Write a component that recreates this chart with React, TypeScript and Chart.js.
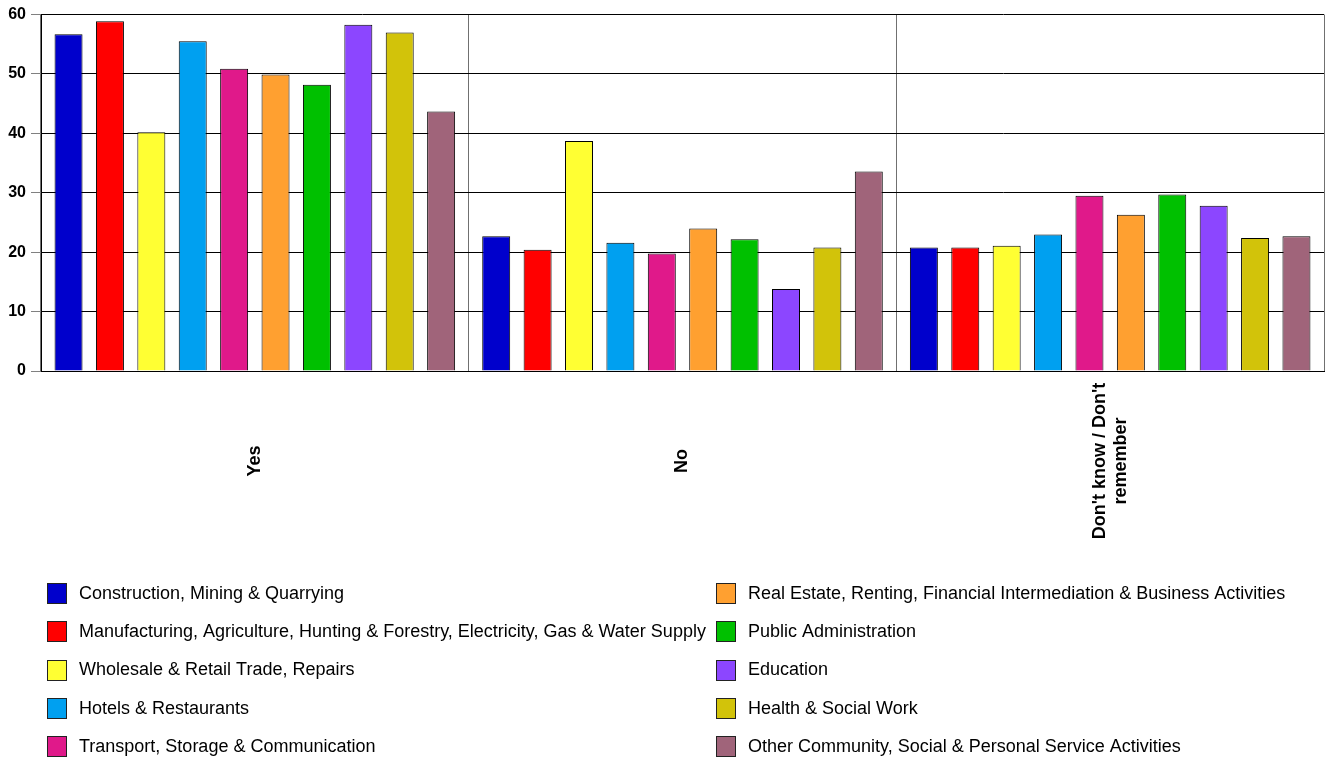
import React, { useEffect, useRef } from "react";
import { Chart, registerables } from "chart.js";

Chart.register(...registerables);

const categories: (string | string[])[] = ["Yes", "No", ["Don't know / Don't", "remember"]];

const seriesNames = [
  "Construction, Mining & Quarrying",
  "Manufacturing, Agriculture, Hunting & Forestry, Electricity, Gas & Water Supply",
  "Wholesale & Retail Trade, Repairs",
  "Hotels & Restaurants",
  "Transport, Storage & Communication",
  "Real Estate, Renting, Financial Intermediation & Business Activities",
  "Public Administration",
  "Education",
  "Health & Social Work",
  "Other Community, Social & Personal Service Activities",
];

const seriesColors = [
  "#0000CC",
  "#FF0000",
  "#FFFF33",
  "#00A0F0",
  "#E0198A",
  "#FFA030",
  "#00C000",
  "#8C46FF",
  "#D2C30A",
  "#A0647A",
];

// values per series: [Yes, No, Don't know]
const construction = [56.7, 22.7, 20.8];
const manufacturing = [58.9, 20.4, 20.8];
const wholesale = [40.2, 38.7, 21.1];
const hotels = [55.5, 21.6, 23.0];
const transport = [50.9, 19.8, 29.5];
const realEstate = [49.9, 24.0, 26.3];
const publicAdmin = [48.2, 22.2, 29.7];
const education = [58.3, 13.8, 27.8];
const health = [57.0, 20.8, 22.4];
const otherCommunity = [43.7, 33.6, 22.7];

const seriesValues = [
  construction,
  manufacturing,
  wholesale,
  hotels,
  transport,
  realEstate,
  publicAdmin,
  education,
  health,
  otherCommunity,
];

const yTicks = [0, 10, 20, 30, 40, 50, 60];

const FONT = "'Liberation Sans', Arial, sans-serif";

const xLabelPlugin = {
  id: "xLabelPlugin",
  afterDraw(chart: any) {
    const ctx = chart.ctx;
    const xs = chart.scales.x;
    const cy = xs.top + xs.height / 2;
    ctx.save();
    ctx.font = `bold 18px ${FONT}`;
    ctx.fillStyle = "#000";
    ctx.textAlign = "center";
    ctx.textBaseline = "middle";
    categories.forEach((c, i) => {
      const lines = Array.isArray(c) ? c : [c];
      const x = xs.getPixelForValue(i);
      ctx.save();
      ctx.translate(x, cy);
      ctx.rotate(-Math.PI / 2);
      const lh = 21;
      lines.forEach((ln, j) => {
        ctx.fillText(ln, 0, (j - (lines.length - 1) / 2) * lh);
      });
      ctx.restore();
    });
    ctx.restore();
  },
};

const legendPlugin = {
  id: "customLegend",
  afterDraw(chart: any) {
    const ctx = chart.ctx;
    ctx.save();
    ctx.font = `18px ${FONT}`;
    ctx.textBaseline = "middle";
    ctx.textAlign = "left";
    seriesNames.forEach((name, i) => {
      const col = i < 5 ? 0 : 1;
      const row = i % 5;
      const bx = col === 0 ? 47.5 : 716.5;
      const cy = 593 + row * 38.25;
      ctx.fillStyle = seriesColors[i];
      ctx.fillRect(bx, Math.round(cy - 10) + 0.5, 19, 20);
      ctx.strokeStyle = "#222";
      ctx.lineWidth = 1;
      ctx.strokeRect(bx, Math.round(cy - 10) + 0.5, 19, 20);
      ctx.fillStyle = "#000";
      ctx.fillText(name, bx + 31.5, cy + 1);
    });
    ctx.restore();
  },
};

export default function App() {
  const ref = useRef<HTMLCanvasElement | null>(null);

  useEffect(() => {
    document.body.style.margin = "0";
    const canvas = ref.current;
    if (!canvas) return;
    const chart = new Chart(canvas, {
      type: "bar",
      data: {
        labels: categories as any,
        datasets: seriesNames.map((name, i) => ({
          label: name,
          data: seriesValues[i],
          backgroundColor: seriesColors[i],
          borderColor: "#000",
          borderWidth: 1,
          categoryPercentage: 0.968,
          barPercentage: 0.676,
        })),
      },
      options: {
        responsive: false,
        animation: false,
        devicePixelRatio: 1,
        layout: { padding: { top: 14, left: 0, right: 1, bottom: 207 } },
        plugins: {
          legend: { display: false },
          tooltip: { enabled: false },
          title: { display: false },
        },
        scales: {
          x: {
            grid: {
              offset: true,
              color: "#707070",
              lineWidth: 1,
              drawTicks: false,
            },
            border: { display: true, color: "#000", width: 1 },
            ticks: { display: false },
            afterFit(scale: any) {
              scale.height = 180;
            },
          },
          y: {
            min: 0,
            max: 60,
            afterBuildTicks(scale: any) {
              scale.ticks = yTicks.map((v) => ({ value: v }));
            },
            grid: {
              color: "#000",
              lineWidth: 1,
              tickColor: "#808080",
              tickLength: 10,
            },
            border: { display: true, color: "#000", width: 1 },
            ticks: {
              color: "#000",
              padding: 5,
              font: { family: FONT, size: 16, weight: "bold" },
            },
            afterFit(scale: any) {
              scale.width = 41;
            },
          },
        },
      },
      plugins: [xLabelPlugin, legendPlugin],
    });
    return () => chart.destroy();
  }, []);

  return (
    <div style={{ width: 1325, height: 758, background: "#fff" }}>
      <canvas ref={ref} width={1325} height={758} style={{ display: "block" }} />
    </div>
  );
}
